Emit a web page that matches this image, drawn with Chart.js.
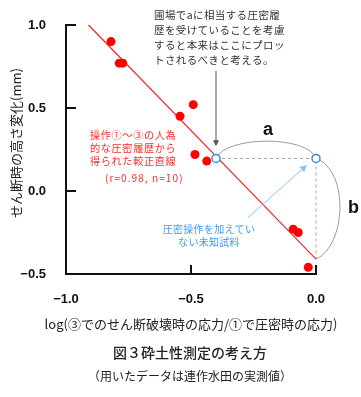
<!DOCTYPE html>
<html><head><meta charset="utf-8">
<script src="https://cdn.jsdelivr.net/npm/chart.js@4/dist/chart.umd.min.js"></script>
<style>html,body{margin:0;padding:0;background:#fff;}#wrap{width:361px;height:397px;position:relative;}</style>
</head><body><div id="wrap"><canvas id="c" width="361" height="397"></canvas></div>
<script>
// ---- data ----
const measuredX = [-0.82, -0.787, -0.773, -0.544, -0.491, -0.484, -0.437, -0.091, -0.071, -0.031];
const measuredY = [0.90, 0.77, 0.77, 0.45, 0.52, 0.22, 0.18, -0.23, -0.25, -0.46];
const calibX = [-0.91, 0.0];
const calibY = [1.0, -0.41];
const sampleX = [-0.4, 0.0];
const sampleY = [0.196, 0.196];
const xTickValues = [-1.0, -0.5, 0.0];
const yTickValues = [-0.5, 0.0, 0.5, 1.0];
const xTitle = 'log(③でのせん断破壊時の応力/①で圧密時の応力)';
const yTitle = 'せん断時の高さ変化(mm)';
const figTitle = '図３砕土性測定の考え方';
const figSub = '（用いたデータは連作水田の実測値）';
const noteTop = ['圃場でaに相当する圧密履', '歴を受けていることを考慮', 'すると本来はここにプロッ', 'トされるべきと考える。'];
const noteRed = ['操作①～③の人為', '的な圧密履歴から', '得られた較正直線', '(r=0.98, n=10)'];
const noteBlue = ['圧密操作を加えてい', 'ない未知試料'];

const JP = '"Noto Sans CJK JP", "Noto Sans", sans-serif';
const NUM = '"Liberation Sans", Arial, sans-serif';
const fmt = v => (v < 0 ? '\u2212' : '') + Math.abs(v).toFixed(1);

const pts = (xs, ys) => xs.map((x, i) => ({x, y: ys[i]}));

function arrow(ctx, x0, y0, x1, y1, color, head) {
  ctx.save();
  ctx.strokeStyle = color; ctx.fillStyle = color; ctx.lineWidth = 1;
  const a = Math.atan2(y1 - y0, x1 - x0);
  ctx.beginPath(); ctx.moveTo(x0, y0);
  ctx.lineTo(x1 - Math.cos(a) * head * 0.8, y1 - Math.sin(a) * head * 0.8); ctx.stroke();
  ctx.beginPath();
  ctx.moveTo(x1, y1);
  ctx.lineTo(x1 - head * Math.cos(a) + head * 0.5 * Math.sin(a), y1 - head * Math.sin(a) - head * 0.5 * Math.cos(a));
  ctx.lineTo(x1 - head * Math.cos(a) - head * 0.5 * Math.sin(a), y1 - head * Math.sin(a) + head * 0.5 * Math.cos(a));
  ctx.closePath(); ctx.fill();
  ctx.restore();
}

const deco = {
  id: 'deco',
  beforeDatasetsDraw(chart) {
    const {ctx, scales: {x, y}} = chart;
    const P = (dx, dy) => [x.getPixelForValue(dx), y.getPixelForValue(dy)];
    ctx.save();
    ctx.strokeStyle = '#9a9a9a'; ctx.lineWidth = 1;
    // arc a
    let a0 = P(sampleX[0], sampleY[0]), a3 = P(sampleX[1], sampleY[1]);
    let c1 = P(-0.36, 0.335), c2 = P(-0.03, 0.335);
    ctx.beginPath(); ctx.moveTo(a0[0], a0[1]); ctx.bezierCurveTo(c1[0], c1[1], c2[0], c2[1], a3[0], a3[1]); ctx.stroke();
    // arc b
    let b3 = P(calibX[1], calibY[1]);
    c1 = P(0.135, 0.12); c2 = P(0.12, -0.33);
    ctx.beginPath(); ctx.moveTo(a3[0], a3[1]); ctx.bezierCurveTo(c1[0], c1[1], c2[0], c2[1], b3[0], b3[1]); ctx.stroke();
    ctx.restore();
  },
  afterDatasetsDraw(chart) {
    const {ctx, scales: {x, y}, chartArea: ca} = chart;
    const P = (dx, dy) => [x.getPixelForValue(dx), y.getPixelForValue(dy)];
    ctx.save();
    // inward ticks
    ctx.strokeStyle = '#111'; ctx.lineWidth = 2;
    yTickValues.forEach(v => { const py = Math.round(y.getPixelForValue(v)); ctx.beginPath(); ctx.moveTo(ca.left, py); ctx.lineTo(ca.left + 10, py); ctx.stroke(); });
    xTickValues.forEach(v => { const px = Math.round(x.getPixelForValue(v)); ctx.beginPath(); ctx.moveTo(px, ca.bottom); ctx.lineTo(px, ca.bottom - 9); ctx.stroke(); });
    // arrows
    let s = P(-0.4, 0.725), e = P(-0.4, 0.27);
    arrow(ctx, s[0], s[1], e[0], e[1], '#555', 6);
    s = P(-0.272, -0.16); e = P(-0.036, 0.157);
    arrow(ctx, s[0], s[1], e[0], e[1], '#8cc4f5', 7);
    // labels a / b
    ctx.fillStyle = '#111'; ctx.font = 'bold 18px ' + NUM; ctx.textAlign = 'center'; ctx.textBaseline = 'middle';
    let p = P(-0.192, 0.37); ctx.fillText('a', p[0], p[1]);
    p = P(0.15, -0.1); ctx.fillText('b', p[0], p[1]);
    // top note
    ctx.font = '10.5px ' + JP; ctx.fillStyle = '#333'; ctx.textAlign = 'left';
    ctx.letterSpacing = '0.4px';
    p = P(-0.648, 1.063);
    noteTop.forEach((t, i) => ctx.fillText(t, p[0], p[1] + i * 15));
    // red note
    ctx.font = '10.2px ' + JP; ctx.fillStyle = '#ff2b2b';
    ctx.letterSpacing = '0.6px';
    p = P(-0.904, 0.336);
    ctx.fillText(noteRed[0], p[0], p[1]);
    ctx.fillText(noteRed[1], p[0], p[1] + 13);
    ctx.fillText(noteRed[2], p[0], p[1] + 26);
    ctx.letterSpacing = '1px';
    ctx.fillText(noteRed[3], p[0] + 15, p[1] + 42.5);
    // blue note
    ctx.letterSpacing = '0.3px';
    ctx.font = '10px ' + JP;
    ctx.fillStyle = '#3d9bf2'; ctx.textAlign = 'center';
    p = P(-0.428, -0.232);
    noteBlue.forEach((t, i) => ctx.fillText(t, p[0], p[1] + i * 12.5));
    ctx.restore();
  },
  afterDraw(chart) {
    const {ctx, chartArea: ca} = chart;
    ctx.save();
    ctx.fillStyle = '#222'; ctx.textBaseline = 'middle'; ctx.textAlign = 'center';
    // y title
    ctx.save(); ctx.translate(16, 143); ctx.rotate(-Math.PI / 2);
    ctx.font = '13px ' + JP; ctx.fillText(yTitle, 0, 0); ctx.restore();
    // x title
    ctx.font = '13px ' + JP; ctx.fillText(xTitle, (ca.left + ca.right) / 2, 324);
    ctx.font = '500 14px ' + JP; ctx.fillText(figTitle, 190, 353);
    ctx.font = '12px ' + JP; ctx.fillText(figSub, 190, 376);
    ctx.restore();
  }
};

new Chart(document.getElementById('c'), {
  type: 'scatter',
  data: {
    datasets: [
      {label: 'sample', data: pts(sampleX, sampleY), pointRadius: 4, pointBorderWidth: 1.5,
       pointBackgroundColor: '#fff', pointBorderColor: '#2f8fef', showLine: false, clip: false, order: 0},
      {label: 'measured', data: pts(measuredX, measuredY), pointRadius: 4.5, pointBorderWidth: 0,
       pointBackgroundColor: '#ff0000', pointBorderColor: '#ff0000', showLine: false, clip: false, order: 1},
      {label: 'guide', type: 'line', data: [{x: sampleX[0], y: sampleY[0]}, {x: sampleX[1], y: sampleY[1]}, {x: calibX[1], y: calibY[1]}],
       borderColor: '#a8a8a8', borderWidth: 1, borderDash: [3, 3], pointRadius: 0, fill: false, tension: 0, clip: false, order: 3},
      {label: 'calib', type: 'line', data: pts(calibX, calibY), borderColor: '#ff1a1a', borderWidth: 1.1,
       pointRadius: 0, fill: false, tension: 0, clip: false, order: 2}
    ]
  },
  options: {
    responsive: false, devicePixelRatio: 1, animation: false,
    layout: {padding: {left: 0, top: 25, right: 45, bottom: 0}},
    plugins: {legend: {display: false}, tooltip: {enabled: false}},
    scales: {
      x: {type: 'linear', min: -1, max: 0,
          afterFit: s => { s.height = 123; },
          afterBuildTicks: s => { s.ticks = xTickValues.map(v => ({value: v})); },
          grid: {display: false}, border: {display: true, color: '#111', width: 2},
          ticks: {padding: 10, color: '#111', font: {family: NUM, size: 13, weight: 'bold'}, callback: v => fmt(v), maxRotation: 0}},
      y: {type: 'linear', min: -0.5, max: 1.0,
          afterFit: s => { s.width = 66; },
          afterBuildTicks: s => { s.ticks = yTickValues.map(v => ({value: v})); },
          grid: {display: false}, border: {display: true, color: '#111', width: 2},
          ticks: {padding: 12, color: '#111', font: {family: NUM, size: 13, weight: 'bold'}, callback: v => fmt(v)}}
    }
  },
  plugins: [deco]
});
</script></body></html>
